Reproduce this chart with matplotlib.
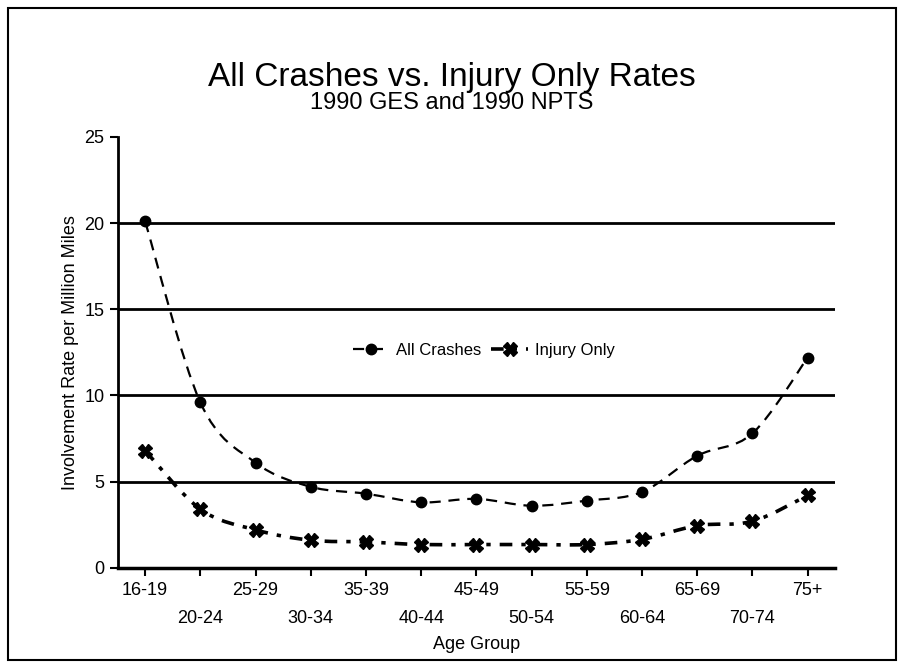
import numpy as np
import matplotlib.pyplot as plt
from matplotlib.path import Path
from matplotlib.patches import PathPatch, Rectangle
from matplotlib.lines import Line2D

plt.rcParams['font.family'] = ['Liberation Sans Narrow', 'Liberation Sans', 'DejaVu Sans']

age_groups = ["16-19", "20-24", "25-29", "30-34", "35-39", "40-44", "45-49",
              "50-54", "55-59", "60-64", "65-69", "70-74", "75+"]
all_crashes = [20.1, 9.6, 6.1, 4.7, 4.3, 3.8, 4.0, 3.6, 3.9, 4.4, 6.5, 7.8, 12.2]
injury_only = [6.8, 3.4, 2.2, 1.6, 1.5, 1.35, 1.35, 1.35, 1.35, 1.65, 2.45, 2.7, 4.2]


def smooth_path(x, y, t=1 / 6):
    # cubic bezier through the points (Catmull-Rom style control points)
    x = np.asarray(x, float)
    y = np.asarray(y, float)
    verts = [(x[0], y[0])]
    codes = [Path.MOVETO]
    n = len(x)
    for i in range(n - 1):
        x0, y0 = (x[i - 1], y[i - 1]) if i > 0 else (x[i], y[i])
        x3, y3 = (x[i + 2], y[i + 2]) if i + 2 < n else (x[i + 1], y[i + 1])
        c1 = (x[i] + (x[i + 1] - x0) * t, y[i] + (y[i + 1] - y0) * t)
        c2 = (x[i + 1] - (x3 - x[i]) * t, y[i + 1] - (y3 - y[i]) * t)
        verts += [c1, c2, (x[i + 1], y[i + 1])]
        codes += [Path.CURVE4] * 3
    return Path(verts, codes)


fig = plt.figure(figsize=(9.04, 6.68), dpi=100)
fig.patches.append(Rectangle((0.009, 0.012), 0.982, 0.976, transform=fig.transFigure,
                             fill=False, edgecolor='black', linewidth=1.5))
ax = fig.add_axes([0.130, 0.150, 0.794, 0.645])

xs = np.arange(len(age_groups))

ax.add_patch(PathPatch(smooth_path(xs, all_crashes), fill=False, edgecolor='black',
                       linewidth=1.6, linestyle=(0, (5, 3.5)), zorder=3))
ax.plot(xs, all_crashes, linestyle='none', marker='o', markersize=7.5,
        color='black', zorder=4)

ax.add_patch(PathPatch(smooth_path(xs, injury_only), fill=False, edgecolor='black',
                       linewidth=2.6, linestyle=(0, (3.5, 2.5, 1.2, 2.5)), zorder=3))
ax.plot(xs, injury_only, linestyle='none', marker='X', markersize=10,
        color='black', zorder=4)

ax.set_xlim(-0.5, len(age_groups) - 0.5)
ax.set_ylim(0, 25)
ax.set_yticks([0, 5, 10, 15, 20, 25])
for v in [5, 10, 15, 20]:
    ax.axhline(v, color='black', linewidth=2, zorder=1)

ax.set_xticks(xs)
ax.set_xticklabels([lab if i % 2 == 0 else "\n" + lab for i, lab in enumerate(age_groups)],
                   fontsize=13, linespacing=1.9)
ax.tick_params(axis='x', direction='out', length=6, width=1.5, pad=4)
ax.tick_params(axis='y', direction='out', length=6, width=1.5, labelsize=13)
for s in ['top', 'right']:
    ax.spines[s].set_visible(False)
ax.spines['left'].set_linewidth(2)
ax.spines['bottom'].set_linewidth(2.5)

ax.set_xlabel("Age Group", fontsize=13, labelpad=6)
ax.set_ylabel("Involvement Rate per Million Miles", fontsize=13, labelpad=4)

fig.text(0.5, 0.872, "All Crashes vs. Injury Only Rates", ha='center', fontsize=24)
fig.text(0.5, 0.837, "1990 GES and 1990 NPTS", ha='center', fontsize=17)

handles = [
    Line2D([], [], color='black', linewidth=1.6, linestyle=(0, (5, 3.5)),
           marker='o', markersize=7.5),
    Line2D([], [], color='black', linewidth=2.6, linestyle=(0, (3.5, 2.5, 1.2, 2.5)),
           marker='X', markersize=10),
]
ax.legend(handles, ["All Crashes", "Injury Only"], loc='center',
          bbox_to_anchor=(0.51, 0.505), ncol=2, frameon=False, fontsize=12,
          handlelength=2.2, columnspacing=0.6, handletextpad=0.4)

fig.savefig("out.png", dpi=100)
